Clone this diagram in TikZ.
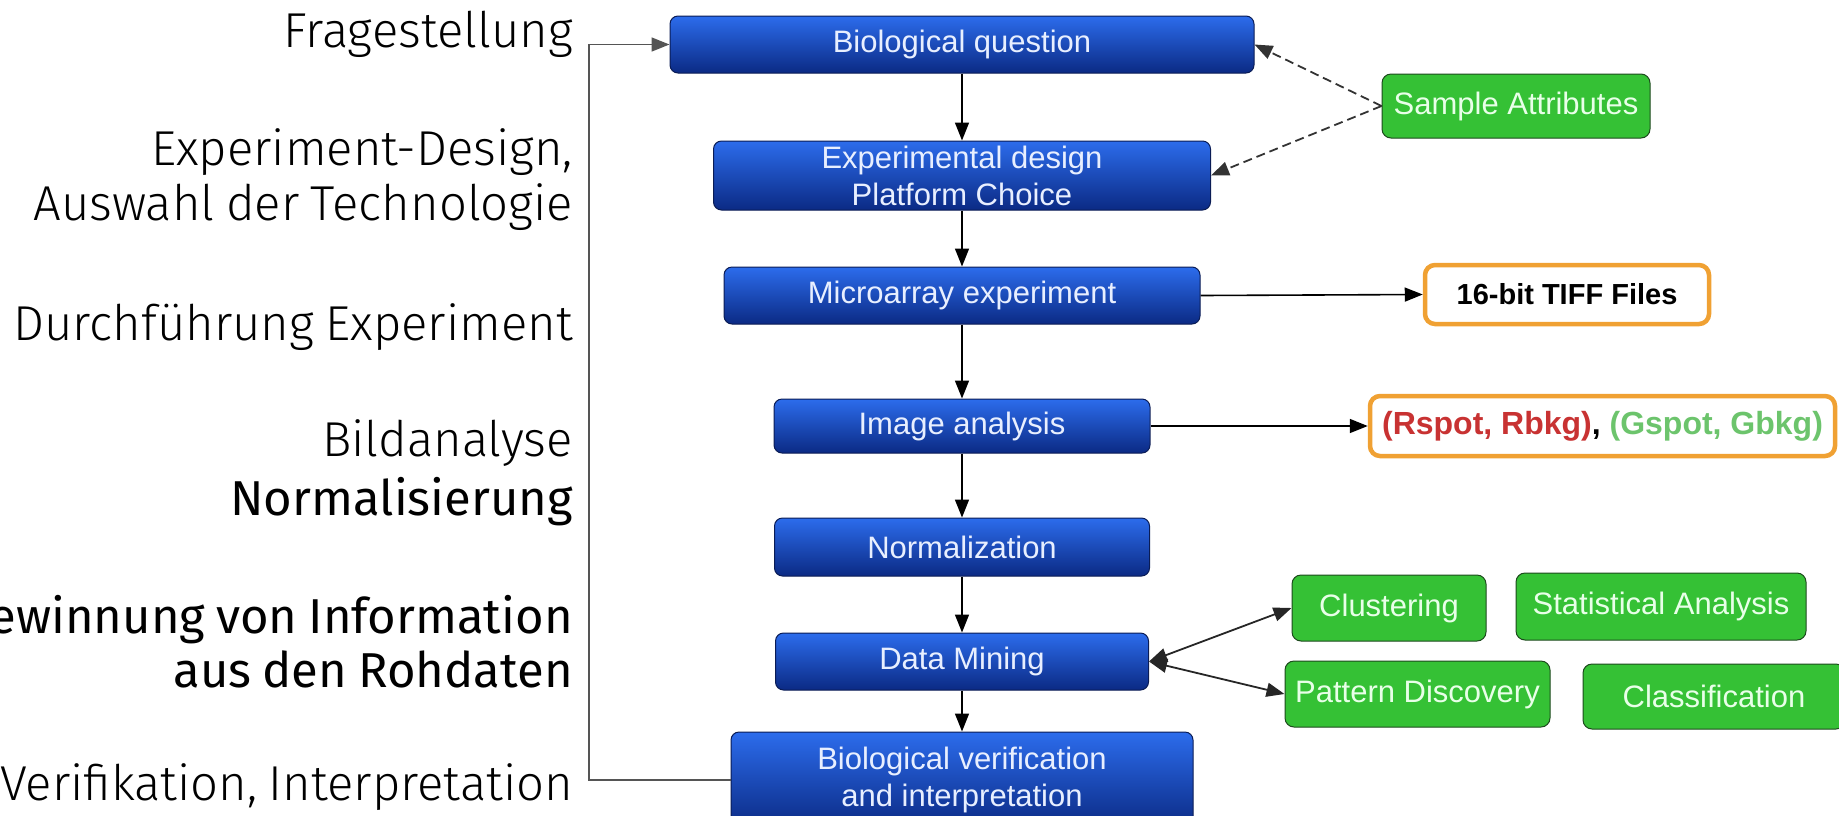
\documentclass[tikz,border=0pt]{standalone}
\usepackage{fontspec}
\setmainfont{Liberation Sans}
\newfontfamily\labellight{Fira Sans Light}[WordSpace=0.85]
\newfontfamily\labelreg{Fira Sans}[WordSpace=0.85]
\usetikzlibrary{arrows.meta}

\definecolor{bluetop}{HTML}{2C6CEC}
\definecolor{bluebot}{HTML}{0B2A84}
\definecolor{blueedge}{HTML}{0A1C55}
\definecolor{bluetext}{HTML}{E8EFFF}
\definecolor{greenfill}{HTML}{35C135}
\definecolor{greenedge}{HTML}{1D4A1D}
\definecolor{greentext}{HTML}{E8FFE8}
\definecolor{orangeedge}{HTML}{F0A133}
\definecolor{spotred}{HTML}{C83232}
\definecolor{spotgreen}{HTML}{6CC46C}
\definecolor{loopgray}{HTML}{555555}

\tikzset{
  stepbox/.style={rounded corners=8pt, draw=blueedge, line width=1pt,
    top color=bluetop, bottom color=bluebot, text=bluetext,
    font=\fontsize{31}{37}\selectfont, align=center, inner sep=0pt},
  toolbox/.style={rounded corners=9pt, draw=greenedge, line width=1pt,
    fill=greenfill, text=greentext, font=\fontsize{31}{37}\selectfont,
    inner sep=0pt},
  filebox/.style={rounded corners=10pt, draw=orangeedge, line width=4.5pt,
    fill=white, font=\fontsize{29}{34}\selectfont\bfseries, inner sep=0pt},
  phase/.style={anchor=base east, inner sep=0pt,
    font=\fontsize{49}{57}\selectfont\labellight},
  phasebold/.style={phase, font=\fontsize{49}{57}\selectfont\labelreg},
  flow/.style={draw=black, line width=1.6pt,
    -{Triangle[length=18pt,width=14pt]}},
  twoway/.style={draw=black!85, line width=1.8pt,
    {Triangle[length=18pt,width=14pt]}-{Triangle[length=18pt,width=14pt]}},
  attrlink/.style={draw=black!80, line width=1.8pt, dash pattern=on 9pt off 5pt,
    -{Triangle[length=18pt,width=14pt]}},
  loopline/.style={draw=loopgray, line width=1.6pt}
}

\begin{document}
\begin{tikzpicture}[x=1pt,y=-1pt]
\useasboundingbox (0,0) rectangle (1839,815);

% main pipeline
\node[stepbox, minimum width=584pt, minimum height=57pt] (bq) at (962,44.5) {Biological question};
\node[stepbox, minimum width=497pt, minimum height=69pt] (ed) at (962,175.5) {Experimental design\\Platform Choice};
\node[stepbox, minimum width=476pt, minimum height=57pt] (ma) at (962,295.5) {Microarray experiment};
\node[stepbox, minimum width=376pt, minimum height=54pt] (ia) at (962,426) {Image analysis};
\node[stepbox, minimum width=375pt, minimum height=58pt] (nz) at (962,547) {Normalization};
\node[stepbox, minimum width=373pt, minimum height=57pt] (dm) at (962,661.5) {Data Mining};
\node[stepbox, minimum width=462pt, minimum height=96pt] (bv) at (962,780) {Biological verification\\and interpretation};

% side boxes
\node[toolbox, minimum width=268pt, minimum height=64pt] (sa) at (1516,106) {Sample Attributes};
\node[filebox, minimum width=284pt, minimum height=59pt] (tf) at (1567,294.5) {16-bit TIFF Files};
\node[filebox, minimum width=465pt, minimum height=60pt, font=\fontsize{32}{36}\selectfont\bfseries]
  (rs) at (1602.5,426)
  {\textcolor{spotred}{(Rspot, Rbkg)}, \textcolor{spotgreen}{(Gspot, Gbkg)}};
\node[toolbox, minimum width=194pt, minimum height=66pt] (cl) at (1389,608) {Clustering};
\node[toolbox, minimum width=290pt, minimum height=67pt] (st) at (1661,606.5) {Statistical Analysis};
\node[toolbox, minimum width=265pt, minimum height=66pt] (pd) at (1417.5,694) {Pattern Discovery};
\node[toolbox, minimum width=262pt, minimum height=65pt] (cf) at (1714,696.5) {Classification};

% phase labels
\node[phase] (l1) at (573,47) {Fragestellung};
\node[phase] (l2a) at (573,165) {Experiment-Design,};
\node[phase] (l2b) at (573,220) {Auswahl der Technologie};
\node[phase] (l3) at (573,340) {Durchführung Experiment};
\node[phase] (l4) at (573,456) {Bildanalyse};
\node[phasebold] (l5) at (573,515) {Normalisierung};
\node[phasebold] (l6a) at (573,633) {Gewinnung von Information};
\node[phasebold] (l6b) at (573,687) {aus den Rohdaten};
\node[phase] (l7) at (573,800) {Verifikation, Interpretation};

% pipeline arrows
\draw[flow] (bq.south) -- (bq.south |- ed.north);
\draw[flow] (ed.south) -- (ed.south |- ma.north);
\draw[flow] (ma.south) -- (ma.south |- ia.north);
\draw[flow] (ia.south) -- (ia.south |- nz.north);
\draw[flow] (nz.south) -- (nz.south |- dm.north);
\draw[flow] (dm.south) -- (dm.south |- bv.north);

% outputs
\draw[flow] (ma.east) -- (tf.west);
\draw[flow] (ia.east) -- (rs.west);

% sample attributes
\draw[attrlink] (sa.west) -- (bq.east);
\draw[attrlink] (sa.west) -- (ed.east);

% data mining methods
\draw[twoway] (dm.east) -- (cl.west);
\draw[twoway] (dm.east) -- (pd.west);

% feedback loop
\coordinate (loop) at (589,0);
\draw[loopline, -{Triangle[length=18pt,width=14pt]}]
  (bv.west) -- (bv.west -| loop) -- (loop |- bq.west) -- (bq.west);
\end{tikzpicture}
\end{document}
